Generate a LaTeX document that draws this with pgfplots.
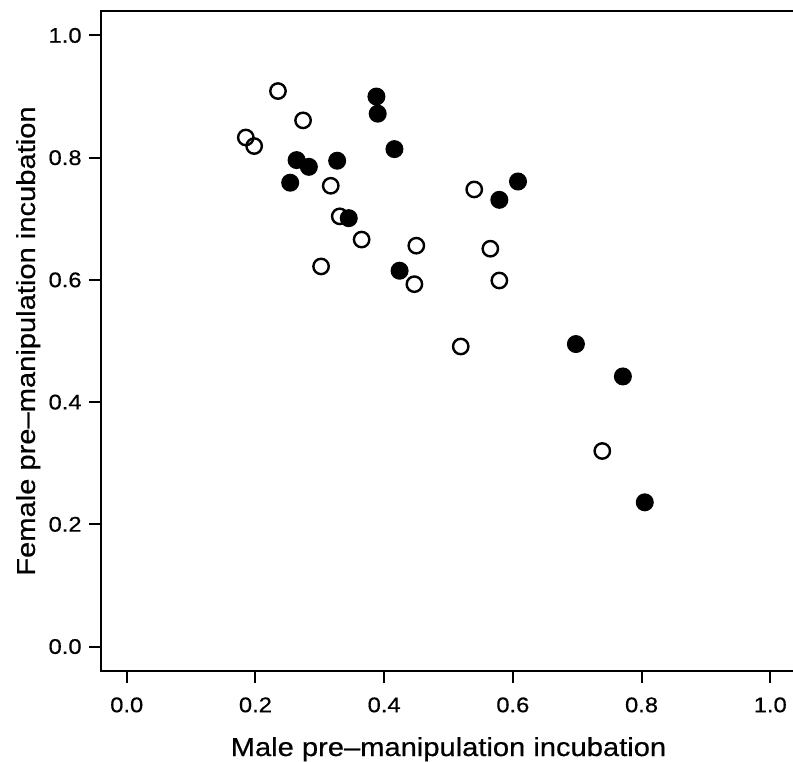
\documentclass[border=0pt]{standalone}
\usepackage{fontspec}
\setmainfont{Liberation Sans}[FakeStretch=1.12, FakeBold=0.5]
\usepackage{pgfplots}
\pgfplotsset{compat=1.18}

\begin{document}
\begin{tikzpicture}
\begin{axis}[
    width=347.5pt, height=330pt,
    scale only axis,
    xmin=-0.04, xmax=1.04,
    ymin=-0.04, ymax=1.04,
    xtick={0,0.2,...,1.0},
    ytick={0,0.2,...,1.0},
    tick pos=left,
    tick align=outside,
    major tick length=6pt,
    axis line style={line width=1pt},
    every tick/.style={black, line width=1pt},
    /pgf/number format/assume math mode=true,
    /pgf/number format/.cd, fixed, fixed zerofill, precision=1, /pgfplots/.cd,
    tick label style={font=\fontsize{10.6}{12}\selectfont, inner sep=0pt},
    xticklabel style={anchor=north, yshift=-7pt},
    yticklabel style={anchor=east, xshift=-3.5pt},
    label style={font=\fontsize{13}{15}\selectfont},
    xlabel={Male pre--manipulation incubation},
    ylabel={Female pre--manipulation incubation},
    xlabel style={at={(axis description cs:0.5,-0.1288)}, anchor=base},
    ylabel style={at={(axis description cs:-0.095,0.5)}, anchor=base},
    clip=false,
]
% open circles
\addplot[only marks, mark=o, mark size=3.85pt, mark options={line width=1.2pt, draw=black}] coordinates {
    (0.235,0.909) (0.274,0.861) (0.185,0.833) (0.198,0.819)
    (0.317,0.754) (0.331,0.704) (0.365,0.666) (0.450,0.656)
    (0.302,0.622) (0.447,0.593) (0.540,0.748) (0.565,0.651)
    (0.579,0.599) (0.739,0.320) (0.519,0.491)
};
% filled circles
\addplot[only marks, mark=*, mark size=4.1pt, mark options={line width=0.8pt, draw=black, fill=black}] coordinates {
    (0.388,0.900) (0.390,0.872) (0.416,0.814) (0.264,0.796)
    (0.283,0.785) (0.327,0.795) (0.254,0.759) (0.345,0.701)
    (0.424,0.615) (0.608,0.761) (0.579,0.731) (0.698,0.495)
    (0.771,0.442) (0.805,0.236)
};
\end{axis}
\pgfresetboundingbox
\path[use as bounding box] ([shift={(-50.5pt,-45pt)}]current axis.south west) rectangle ([shift={(346pt,335.5pt)}]current axis.south west);
\end{tikzpicture}
\end{document}
